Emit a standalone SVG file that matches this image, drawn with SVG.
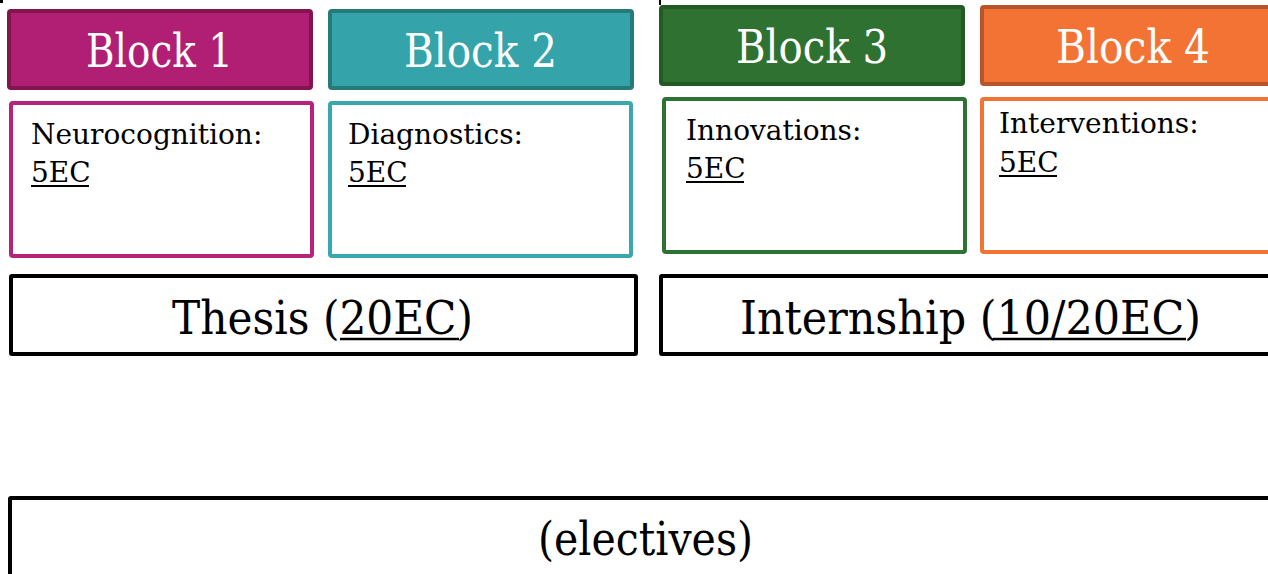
<svg xmlns="http://www.w3.org/2000/svg" width="1268" height="574" viewBox="0 0 1268 574">
<style>
.hdr{stroke-width:4}
.body{fill:#fff;stroke-width:4}
.box{fill:#fff;stroke:#000;stroke-width:4}
.ht{font-family:"DejaVu Serif","Liberation Serif",serif;font-size:46px;fill:#fff}
.bt{font-family:"DejaVu Serif","Liberation Serif",serif;font-size:28px;fill:#000}
.big{font-family:"DejaVu Serif","Liberation Serif",serif;font-size:47px;fill:#000}
.ul{stroke:#000;stroke-width:2}
.ulb{stroke:#000;stroke-width:2.5}
</style>
<rect x="0" y="0" width="3" height="3" fill="#000"/>
<rect x="659" y="0" width="2" height="5" fill="#000"/>
<g id="block1">
<rect class="hdr" x="9" y="11" width="302" height="77" rx="2" fill="#b01f74" stroke="#82144f"/>
<text class="ht" x="86" y="67" textLength="147" lengthAdjust="spacingAndGlyphs">Block 1</text>
</g>
<g id="neurocognition">
<rect class="body" x="11" y="103" width="301" height="153" rx="2" stroke="#b5247a"/>
<text class="bt" x="31" y="144">Neurocognition:</text>
<text class="bt" x="31" y="182">5EC</text>
<line class="ul" x1="31" y1="186" x2="89" y2="186"/>
</g>
<g id="block2">
<rect class="hdr" x="330" y="11" width="302" height="77" rx="2" fill="#35a3aa" stroke="#277a7a"/>
<text class="ht" x="404" y="67" textLength="153" lengthAdjust="spacingAndGlyphs">Block 2</text>
</g>
<g id="diagnostics">
<rect class="body" x="330" y="103" width="301" height="153" rx="2" stroke="#38a7ae"/>
<text class="bt" x="348" y="144">Diagnostics:</text>
<text class="bt" x="348" y="182">5EC</text>
<line class="ul" x1="348" y1="186" x2="406" y2="186"/>
</g>
<g id="block3">
<rect class="hdr" x="661" y="7" width="302" height="77" rx="2" fill="#2e7131" stroke="#235a24"/>
<text class="ht" x="736" y="63" textLength="152" lengthAdjust="spacingAndGlyphs">Block 3</text>
</g>
<g id="innovations">
<rect class="body" x="664" y="99" width="301" height="153" rx="2" stroke="#2e7135"/>
<text class="bt" x="686" y="140">Innovations:</text>
<text class="bt" x="686" y="178">5EC</text>
<line class="ul" x1="686" y1="182" x2="744" y2="182"/>
</g>
<g id="block4">
<rect class="hdr" x="982" y="7" width="300" height="77" rx="2" fill="#f37335" stroke="#b8542a"/>
<text class="ht" x="1056" y="63" textLength="154" lengthAdjust="spacingAndGlyphs">Block 4</text>
</g>
<g id="interventions">
<rect class="body" x="982" y="99" width="300" height="153" rx="2" stroke="#f37335"/>
<text class="bt" x="999" y="133">Interventions:</text>
<text class="bt" x="999" y="172">5EC</text>
<line class="ul" x1="999" y1="176" x2="1057" y2="176"/>
</g>
<g id="thesis">
<rect class="box" x="11" y="276" width="625" height="78" rx="1"/>
<text class="big" x="172" y="334" textLength="301" lengthAdjust="spacingAndGlyphs">Thesis (20EC)</text>
<line class="ulb" x1="340" y1="339" x2="459" y2="339"/>
</g>
<g id="internship">
<rect class="box" x="661" y="276" width="620" height="78" rx="1"/>
<text class="big" x="740" y="334" textLength="461" lengthAdjust="spacingAndGlyphs">Internship (10/20EC)</text>
<line class="ulb" x1="993" y1="339" x2="1186" y2="339"/>
</g>
<g id="electives">
<rect class="box" x="10" y="498" width="1270" height="90" rx="1"/>
<text class="big" x="538" y="555" font-size="44" textLength="215" lengthAdjust="spacingAndGlyphs">(electives)</text>
</g>
<g id="connectors"></g>
</svg>
